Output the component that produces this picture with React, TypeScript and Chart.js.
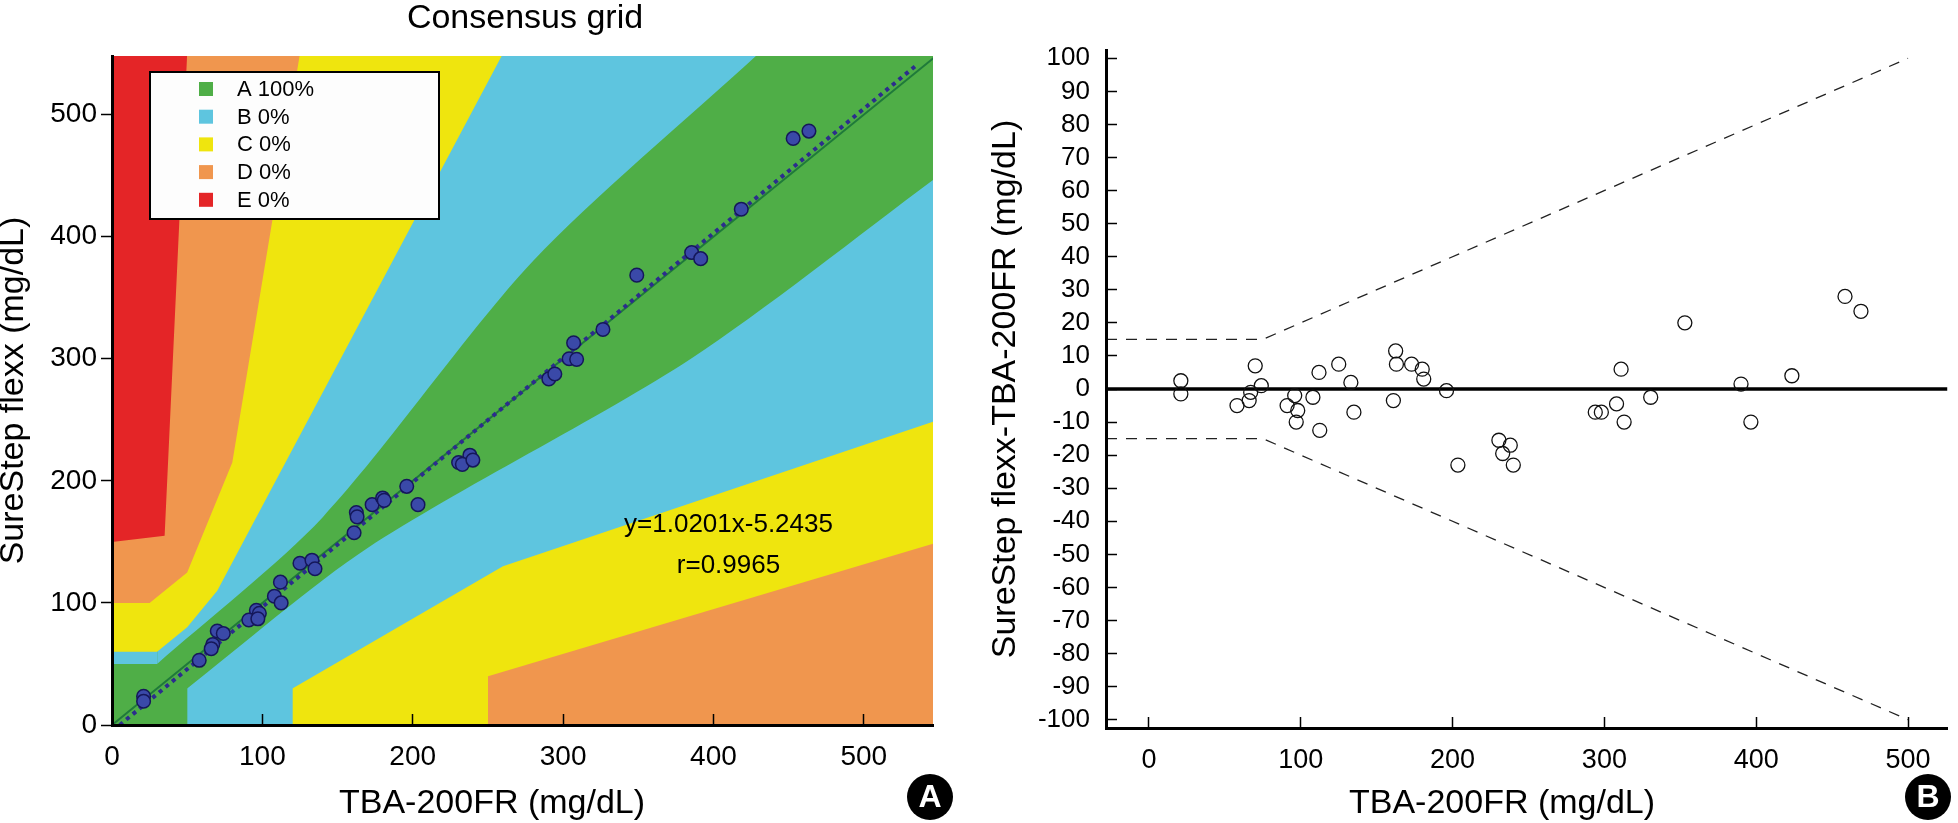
import React, { useEffect, useRef } from 'react';
import { Chart, registerables } from 'chart.js';

Chart.register(...registerables);

const SANS = "'Liberation Sans', Arial, Helvetica, sans-serif";

// ---------------- Panel A : consensus (Parkes) error grid ----------------
const gridTitle = 'Consensus grid';
const gridXTitle = 'TBA-200FR (mg/dL)';
const gridYTitle = 'SureStep flexx (mg/dL)';
const gridTicks = [0, 100, 200, 300, 400, 500];

const zoneLabels = ['A 100%', 'B 0%', 'C 0%', 'D 0%', 'E 0%'];
const zoneColors = ['#4fae47', '#5ec5df', '#efe50e', '#f0964e', '#e42527'];

// zone boundaries (type 1 consensus grid)
const abUpperFlatX = [0, 30];
const abUpperFlatY = [50, 50];
const abUpperCurveX = [30, 140, 280, 430];
const abUpperCurveY = [50, 170, 380, 550];
const bcUpperX = [0, 30, 50, 70, 260];
const bcUpperY = [60, 60, 80, 110, 550];
const cdUpperX = [0, 25, 50, 80, 125];
const cdUpperY = [100, 100, 125, 215, 550];
const deUpperX = [0, 35, 50];
const deUpperY = [150, 155, 550];
const abLowerX = [50, 170, 385, 550];
const abLowerY = [30, 145, 300, 450];
const bcLowerX = [120, 120, 260, 550];
const bcLowerY = [0, 30, 130, 250];
const cdLowerX = [250, 250, 550];
const cdLowerY = [0, 40, 150];
const gridSpanX = [0, 550];
const gridFloorY = [0, 0];

const tbaA = [21, 21, 70, 74, 67, 66, 58, 96, 91, 98, 97, 112, 108, 112.5, 125, 133, 135, 162.5, 163, 173, 180, 181, 161, 196, 203.5, 230.5, 238, 233, 240, 290.5, 294.5, 304, 307, 309, 326.5, 349, 385.5, 391.5, 418.5, 453, 463.5];
const sureStepA = [23.5, 19.5, 77, 75, 66, 62.5, 53, 94, 86, 91.5, 87, 117, 105.5, 100, 132.5, 135, 128, 174, 170.5, 180.5, 186, 184, 157.5, 195.5, 180.5, 215, 221, 213.5, 217, 283.5, 287.5, 300, 313, 299.5, 324, 368.5, 387, 382, 422.5, 480.5, 486.5];

const regressionSlope = 1.0201;
const regressionIntercept = -5.2435;
const regressionXRange = [5.14, 536];
const identityRange = [0, 550];
const regressionText = 'y=1.0201x-5.2435';
const correlationText = 'r=0.9965';

// ---------------- Panel B : difference plot ----------------
const baXTitle = 'TBA-200FR (mg/dL)';
const baYTitle = 'SureStep flexx-TBA-200FR (mg/dL)';
const baXTicks = [0, 100, 200, 300, 400, 500];
const baYTicks = [-100, -90, -80, -70, -60, -50, -40, -30, -20, -10, 0, 10, 20, 30, 40, 50, 60, 70, 80, 90, 100];

const tbaB = [21, 21, 70, 74, 67, 66, 58, 96, 91, 98, 97, 112, 108, 112.5, 125, 133, 135, 162.5, 163, 173, 180, 181, 161, 196, 203.5, 230.5, 238, 233, 240, 294, 298, 308, 311, 313, 330.5, 353, 390, 396.5, 423.5, 458.5, 469];
const diffB = [2.5, -1.5, 7, 1, -1, -3.5, -5, -2, -5, -6.5, -10, 5, -2.5, -12.5, 7.5, 2, -7, 11.5, 7.5, 7.5, 6, 3, -3.5, -0.5, -23, -15.5, -17, -19.5, -23, -7, -7, -4.5, 6, -10, -2.5, 20, 1.5, -10, 4, 28, 23.5];

const baRangeX = [-28.3, 526];
const zeroLineY = [0, 0];
const limitX = [-28.3, 75, 500];
const upperLimit = [15, 15, 100];
const lowerLimit = [-15, -15, -100];

const pts = (xs: number[], ys: number[]) => xs.map((x, i) => ({ x, y: ys[i] }));

const zone = (xs: number[], ys: number[], color: string, fill: string, order: number, tension = 0) => ({
  type: 'line',
  data: pts(xs, ys),
  borderColor: 'transparent',
  borderWidth: 0,
  backgroundColor: color,
  fill,
  pointRadius: 0,
  tension,
  order,
});

const setTicks = (values: number[]) => (scale: any) => {
  scale.ticks = values.map((v) => ({ value: v }));
};

function badge(ctx: CanvasRenderingContext2D, letter: string, x: number, y: number) {
  ctx.beginPath();
  ctx.arc(x, y, 23, 0, Math.PI * 2);
  ctx.fillStyle = '#000';
  ctx.fill();
  ctx.fillStyle = '#fff';
  ctx.font = `bold 32px ${SANS}`;
  ctx.textAlign = 'center';
  ctx.textBaseline = 'middle';
  ctx.fillText(letter, x, y + 1);
}

const leftDecor = {
  id: 'leftDecor',
  afterDraw(chart: any) {
    const { ctx, scales } = chart;
    ctx.save();
    ctx.fillStyle = '#000';
    ctx.font = `34px ${SANS}`;
    ctx.textAlign = 'center';
    ctx.textBaseline = 'alphabetic';
    ctx.fillText(gridTitle, 525, 28);
    ctx.fillText(gridXTitle, 492, 813);

    // legend box
    const lx = 150, ly = 72, lw = 289, lh = 147;
    ctx.fillStyle = '#fdfdfd';
    ctx.fillRect(lx, ly, lw, lh);
    ctx.strokeStyle = '#000';
    ctx.lineWidth = 2;
    ctx.strokeRect(lx, ly, lw, lh);
    zoneLabels.forEach((lab, i) => {
      const cy = 89 + i * 27.7;
      ctx.fillStyle = zoneColors[i];
      ctx.fillRect(199, cy - 7, 14, 14);
      ctx.fillStyle = '#000';
      ctx.font = `22px ${SANS}`;
      ctx.textAlign = 'left';
      ctx.textBaseline = 'middle';
      ctx.fillText(lab, 237, cy + 1);
    });

    // regression annotation
    ctx.font = `26px ${SANS}`;
    ctx.textAlign = 'center';
    ctx.textBaseline = 'middle';
    ctx.fillStyle = '#000';
    ctx.fillText(regressionText, scales.x.getPixelForValue(410), scales.y.getPixelForValue(164));
    ctx.fillText(correlationText, scales.x.getPixelForValue(410), scales.y.getPixelForValue(130));

    badge(ctx, 'A', 930, 797);
    ctx.restore();
  },
};

const rightDecor = {
  id: 'rightDecor',
  afterDraw(chart: any) {
    const { ctx } = chart;
    ctx.save();
    ctx.fillStyle = '#000';
    ctx.font = `34px ${SANS}`;
    ctx.textAlign = 'center';
    ctx.textBaseline = 'alphabetic';
    ctx.fillText(baXTitle, 527, 813);
    badge(ctx, 'B', 953, 797);
    ctx.restore();
  },
};

function GridChart() {
  const ref = useRef<HTMLCanvasElement>(null);
  useEffect(() => {
    const regY = regressionXRange.map((x) => regressionSlope * x + regressionIntercept);
    const chart = new Chart(ref.current as HTMLCanvasElement, {
      type: 'line',
      data: {
        datasets: [
          {
            type: 'line',
            data: pts(tbaA, sureStepA),
            showLine: false,
            pointRadius: 6.8,
            pointBackgroundColor: '#3a49a8',
            pointBorderColor: '#15175a',
            pointBorderWidth: 1.5,
            order: 1,
          },
          {
            type: 'line',
            data: pts(regressionXRange, regY),
            borderColor: '#2c2d8c',
            borderWidth: 4,
            borderDash: [4, 4.5],
            borderCapStyle: 'butt',
            pointRadius: 0,
            fill: false,
            order: 2,
          },
          {
            type: 'line',
            data: pts(identityRange, identityRange),
            borderColor: '#1f7a3a',
            borderWidth: 2,
            pointRadius: 0,
            fill: false,
            order: 3,
          },
          zone(gridSpanX, gridFloorY, zoneColors[0], 'end', 100),
          zone(abUpperFlatX, abUpperFlatY, zoneColors[1], 'end', 91),
          zone(abUpperCurveX, abUpperCurveY, zoneColors[1], 'end', 90, 0.28),
          zone(bcUpperX, bcUpperY, zoneColors[2], 'end', 89),
          zone(cdUpperX, cdUpperY, zoneColors[3], 'end', 88),
          zone(deUpperX, deUpperY, zoneColors[4], 'end', 87),
          zone(abLowerX, abLowerY, zoneColors[1], 'start', 86, 0.28),
          zone(bcLowerX, bcLowerY, zoneColors[2], 'start', 85),
          zone(cdLowerX, cdLowerY, zoneColors[3], 'start', 84),
        ] as any,
      },
      options: {
        responsive: false,
        animation: false,
        events: [],
        layout: { padding: { left: 0, top: 56, right: 42, bottom: 0 } },
        plugins: { legend: { display: false }, tooltip: { enabled: false }, title: { display: false } },
        scales: {
          x: {
            type: 'linear',
            min: 0,
            max: 546,
            afterBuildTicks: setTicks(gridTicks),
            afterFit: (s: any) => { s.height = 98; },
            grid: { drawOnChartArea: false, drawTicks: true, tickLength: -11, tickColor: '#000', tickWidth: 1.5, z: 1 },
            border: { display: true, color: '#000', width: 3, z: 2 },
            ticks: { color: '#000', padding: 26, maxRotation: 0, autoSkip: false, font: { family: SANS, size: 28 }, callback: (v: any) => String(v) },
          },
          y: {
            type: 'linear',
            min: 0,
            max: 548,
            afterBuildTicks: setTicks(gridTicks),
            afterFit: (s: any) => { s.width = 112; },
            grid: { drawOnChartArea: false, drawTicks: true, tickLength: 11, tickColor: '#000', tickWidth: 1.5, z: 1 },
            border: { display: true, color: '#000', width: 3, z: 2 },
            ticks: { color: '#000', padding: 4, autoSkip: false, font: { family: SANS, size: 28 }, callback: (v: any) => String(v) },
            title: { display: true, text: gridYTitle, color: '#000', font: { family: SANS, size: 34, lineHeight: 0.82 }, padding: { top: 0, bottom: 0 } },
          },
        },
      } as any,
      plugins: [leftDecor],
    });
    return () => chart.destroy();
  }, []);
  return <canvas ref={ref} width={975} height={823} style={{ position: 'absolute', left: 0, top: 0 }} />;
}

function DiffChart() {
  const ref = useRef<HTMLCanvasElement>(null);
  useEffect(() => {
    const chart = new Chart(ref.current as HTMLCanvasElement, {
      type: 'line',
      data: {
        datasets: [
          {
            type: 'line',
            data: pts(tbaB, diffB),
            showLine: false,
            pointRadius: 7,
            pointBackgroundColor: 'rgba(0,0,0,0)',
            pointBorderColor: '#111',
            pointBorderWidth: 1.3,
            order: 1,
          },
          {
            type: 'line',
            data: pts(limitX, upperLimit),
            borderColor: '#222',
            borderWidth: 1.3,
            borderDash: [11, 9],
            pointRadius: 0,
            fill: false,
            order: 2,
          },
          {
            type: 'line',
            data: pts(limitX, lowerLimit),
            borderColor: '#222',
            borderWidth: 1.3,
            borderDash: [11, 9],
            pointRadius: 0,
            fill: false,
            order: 2,
          },
          {
            type: 'line',
            data: pts(baRangeX, zeroLineY),
            borderColor: '#000',
            borderWidth: 3.5,
            pointRadius: 0,
            fill: false,
            order: 3,
          },
        ] as any,
      },
      options: {
        responsive: false,
        animation: false,
        events: [],
        layout: { padding: { left: 0, top: 50, right: 10, bottom: 0 } },
        plugins: { legend: { display: false }, tooltip: { enabled: false }, title: { display: false } },
        scales: {
          x: {
            type: 'linear',
            min: baRangeX[0],
            max: baRangeX[1],
            afterBuildTicks: setTicks(baXTicks),
            afterFit: (s: any) => { s.height = 95; },
            grid: { drawOnChartArea: false, drawTicks: true, tickLength: -11, tickColor: '#000', tickWidth: 1.5, z: 1 },
            border: { display: true, color: '#000', width: 3, z: 2 },
            ticks: { color: '#000', padding: 27, maxRotation: 0, autoSkip: false, font: { family: SANS, size: 27 }, callback: (v: any) => String(v) },
          },
          y: {
            type: 'linear',
            min: -102.5,
            max: 102.5,
            afterBuildTicks: setTicks(baYTicks),
            afterFit: (s: any) => { s.width = 131; },
            grid: { drawOnChartArea: false, drawTicks: true, tickLength: -11, tickColor: '#000', tickWidth: 1.5, z: 1 },
            border: { display: true, color: '#000', width: 3, z: 2 },
            ticks: { color: '#000', padding: 27, autoSkip: false, font: { family: SANS, size: 26 }, callback: (v: any) => String(v) },
            title: { display: true, text: baYTitle, color: '#000', font: { family: SANS, size: 34, lineHeight: 0.82 }, padding: { top: 16.7, bottom: 0 } },
          },
        },
      } as any,
      plugins: [rightDecor],
    });
    return () => chart.destroy();
  }, []);
  return <canvas ref={ref} width={983} height={823} style={{ position: 'absolute', left: 975, top: 0 }} />;
}

export default function App() {
  return (
    <div style={{ position: 'absolute', left: 0, top: 0, width: 1958, height: 823, background: '#fff', overflow: 'hidden' }}>
      <GridChart />
      <DiffChart />
    </div>
  );
}
